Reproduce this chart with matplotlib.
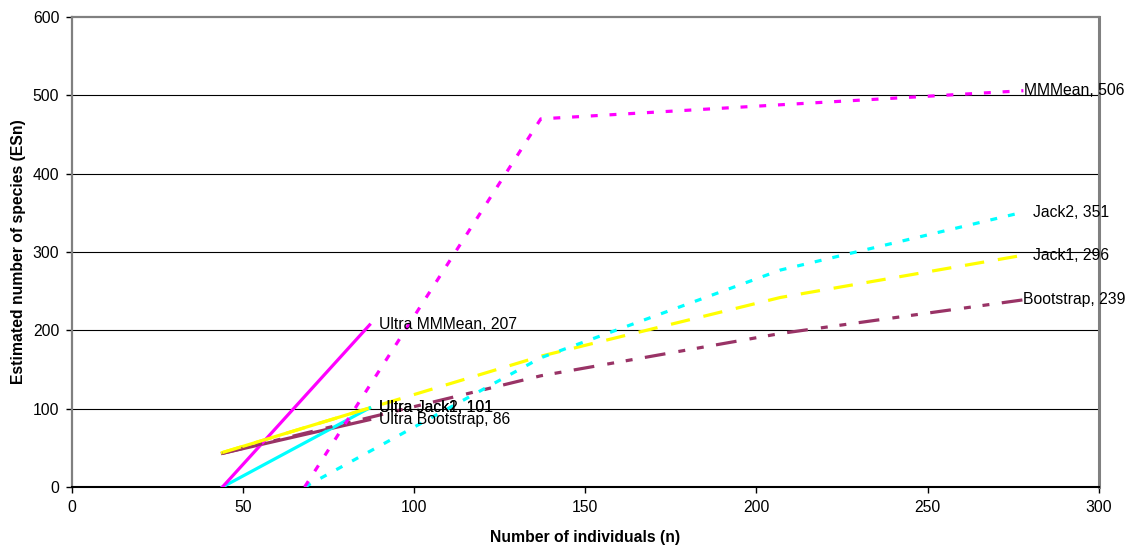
import matplotlib
matplotlib.use("Agg")
import matplotlib.pyplot as plt

plt.rcParams['font.family'] = ['Liberation Sans', 'DejaVu Sans']
plt.rcParams['lines.scale_dashes'] = False

# Ultra estimators (solid lines)
ultra_n = [44, 87]
ultra_mmmean = [0, 207]
ultra_jack2 = [0, 101]
ultra_jack1 = [44, 101]
ultra_bootstrap = [43, 86]

# Classic estimators (broken lines)
mmmean_n = [68, 137, 207, 278]
mmmean = [0, 470, 488, 506]
jack2_n = [68, 137, 207, 278]
jack2 = [0, 165, 277, 351]
jack1_n = [44, 137, 207, 278]
jack1 = [44, 167, 242, 296]
boot_n = [44, 137, 207, 278]
bootstrap = [43, 142, 196, 239]

x_ticks = [0, 50, 100, 150, 200, 250, 300]
y_ticks = [0, 100, 200, 300, 400, 500, 600]

MAGENTA = '#FF00FF'
CYAN = '#00FFFF'
YELLOW = '#FFFF00'
PLUM = '#993366'
LW = 2.3
FS = 11.3

fig = plt.figure(figsize=(11.35, 5.5), dpi=100)
ax = fig.add_axes([0.0633, 0.1145, 0.9047, 0.8545])

for y in y_ticks[1:-1]:
    ax.axhline(y, color='black', lw=0.8, zorder=1)

# solid "Ultra" series
ax.plot(ultra_n, ultra_bootstrap, color=PLUM, lw=LW, zorder=3)
ax.plot(ultra_n, ultra_jack1, color=YELLOW, lw=LW, zorder=3)
ax.plot(ultra_n, ultra_jack2, color=CYAN, lw=LW, zorder=3)
ax.plot(ultra_n, ultra_mmmean, color=MAGENTA, lw=LW, zorder=3)

# broken series
ax.plot(boot_n, bootstrap, color=PLUM, lw=LW, zorder=4,
        dashes=(15, 9.5, 5, 8.5, 5, 9))
ax.plot(jack1_n, jack1, color=YELLOW, lw=LW, zorder=4, dashes=(14, 10))
ax.plot(jack2_n, jack2, color=CYAN, lw=LW, zorder=4, dashes=(5, 8))
ax.plot(mmmean_n, mmmean, color=MAGENTA, lw=LW, zorder=4, dashes=(5, 8.5))

# end-of-line data labels (Ultra Jack1 / Jack2 overlap as in the original)
labels = [
    (ultra_n[-1], ultra_mmmean[-1], 'Ultra MMMean', 7),
    (ultra_n[-1], ultra_jack1[-1], 'Ultra Jack1', 7),
    (ultra_n[-1], ultra_jack2[-1], 'Ultra Jack2', 7),
    (ultra_n[-1], ultra_bootstrap[-1], 'Ultra Bootstrap', 7),
    (mmmean_n[-1], mmmean[-1], 'MMMean', 0.5),
    (jack2_n[-1], jack2[-1], 'Jack2', 7),
    (jack1_n[-1], jack1[-1], 'Jack1', 7),
    (boot_n[-1], bootstrap[-1], 'Bootstrap', 0),
]
for x, y, name, off in labels:
    ax.annotate(f'{name}, {y}', (x, y), xytext=(off, 0), textcoords='offset points',
                ha='left', va='center', fontsize=FS, color='black', zorder=6)

ax.set_xlim(0, 300)
ax.set_ylim(0, 600)
ax.set_xticks(x_ticks)
ax.set_yticks(y_ticks)
ax.tick_params(direction='out', length=4, width=1, colors='black', labelsize=FS, pad=5)

for side in ['top', 'right', 'left']:
    ax.spines[side].set_color('#808080')
    ax.spines[side].set_linewidth(1.6)
ax.spines['right'].set_linewidth(2.2)
ax.spines['bottom'].set_color('black')
ax.spines['bottom'].set_linewidth(1.5)

ax.set_xlabel('Number of individuals (n)', fontsize=FS, fontweight='bold', labelpad=11)
ax.set_ylabel('Estimated number of species (ESn)', fontsize=FS, fontweight='bold', labelpad=5)

fig.savefig('out.png', dpi=100)
